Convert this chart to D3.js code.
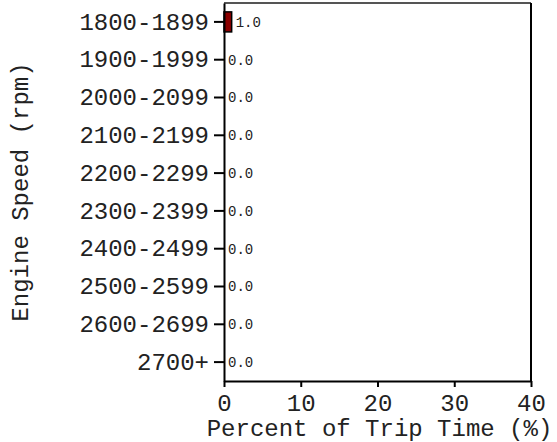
<!DOCTYPE html>
<html>
<head>
<meta charset="utf-8">
<script src="https://cdn.jsdelivr.net/npm/d3@7"></script>
<style>
  body { margin: 0; background: #fff; }
  text { font-family: "Liberation Mono", "Courier New", monospace; }
</style>
</head>
<body>
<div id="chart"></div>
<script>
const speedBins = ['1800-1899', '1900-1999', '2000-2099', '2100-2199', '2200-2299',
                   '2300-2399', '2400-2499', '2500-2599', '2600-2699', '2700+'];
const tripPercent = [1.0, 0.0, 0.0, 0.0, 0.0, 0.0, 0.0, 0.0, 0.0, 0.0];
const xTicks = [0, 10, 20, 30, 40];

const data = speedBins.map((b, i) => ({ bin: b, value: tripPercent[i] }));

const width = 557, height = 442;
const margin = { top: 3, right: 26, bottom: 61, left: 224 };
const w = width - margin.left - margin.right;
const h = height - margin.top - margin.bottom;

const svg = d3.select('#chart').append('svg')
    .attr('width', width)
    .attr('height', height);

const g = svg.append('g')
    .attr('transform', 'translate(' + margin.left + ',' + margin.top + ')');

const x = d3.scaleLinear().domain([0, 40]).range([0, w]);
const y = d3.scaleBand().domain(speedBins).range([0, h]).paddingInner(0.47).paddingOuter(0.235);

// bars
g.selectAll('rect.bar')
    .data(data)
    .enter().append('rect')
    .attr('class', 'bar')
    .attr('x', x(0))
    .attr('y', d => y(d.bin))
    .attr('width', d => x(d.value) - x(0))
    .attr('height', y.bandwidth())
    .attr('fill', '#8b0000')
    .attr('stroke', '#000')
    .attr('stroke-width', 1.5);

// value labels
g.selectAll('text.val')
    .data(data)
    .enter().append('text')
    .attr('class', 'val')
    .attr('x', d => x(d.value) + 4)
    .attr('y', d => y(d.bin) + y.bandwidth() / 2)
    .attr('dy', '0.35em')
    .attr('fill', '#222')
    .style('font-size', '14px')
    .text(d => d.value.toFixed(1));

// frame
g.append('line').attr('x1', 0).attr('x2', w).attr('y1', 0).attr('y2', 0)
    .attr('stroke', '#555').attr('stroke-width', 2);
g.append('line').attr('x1', w).attr('x2', w).attr('y1', 0).attr('y2', h)
    .attr('stroke', '#000').attr('stroke-width', 2);

// axes
const xAxis = g.append('g')
    .attr('transform', 'translate(0,' + h + ')')
    .call(d3.axisBottom(x).tickValues(xTicks).tickSize(6).tickPadding(7).tickSizeOuter(0));
const yAxis = g.append('g')
    .call(d3.axisLeft(y).tickSize(10).tickPadding(5).tickSizeOuter(0));

[xAxis, yAxis].forEach(a => {
    a.select('.domain').attr('stroke', '#000').attr('stroke-width', 2);
    a.selectAll('.tick line').attr('stroke', '#000').attr('stroke-width', 2);
    a.selectAll('.tick text')
        .style('font-family', '"Liberation Mono", "Courier New", monospace')
        .style('font-size', '24px')
        .attr('fill', '#222');
});

// axis titles
svg.append('text')
    .attr('x', margin.left + w / 2 + 2)
    .attr('y', 436)
    .attr('text-anchor', 'middle')
    .attr('fill', '#222')
    .style('font-size', '24px')
    .text('Percent of Trip Time (%)');

svg.append('text')
    .attr('transform', 'translate(28,' + (margin.top + h / 2) + ') rotate(-90)')
    .attr('text-anchor', 'middle')
    .attr('fill', '#222')
    .style('font-size', '24px')
    .text('Engine Speed (rpm)');
</script>
</body>
</html>
